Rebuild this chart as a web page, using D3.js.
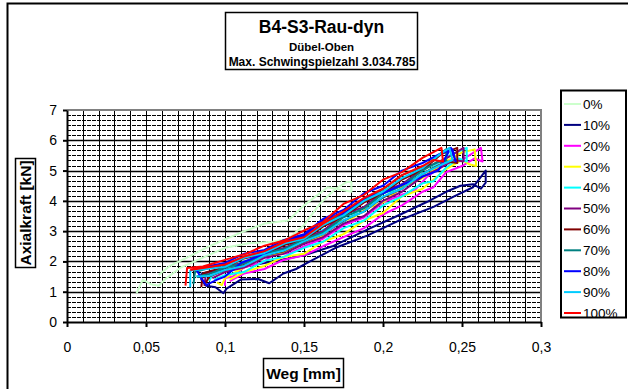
<!DOCTYPE html>
<html>
<head>
<meta charset="utf-8">
<script src="https://cdn.jsdelivr.net/npm/d3@7"></script>
<style>
  body { margin: 0; background: #fff; }
  text { font-family: "Liberation Sans", Arial, sans-serif; }
</style>
</head>
<body>
<div></div>
<script>
// legend labels and line colours
const categories = ['0%', '10%', '20%', '30%', '40%', '50%', '60%', '70%', '80%', '90%', '100%'];
const colors = ['#ccffcc', '#000080', '#ff00ff', '#ffff00', '#00ffff', '#800080', '#800000', '#008080', '#0000ff', '#00ccff', '#ff0000'];

const xTicks = [0, 0.05, 0.1, 0.15, 0.2, 0.25, 0.3];
const xLabels = ['0', '0,05', '0,1', '0,15', '0,2', '0,25', '0,3'];
const yTicks = [0, 1, 2, 3, 4, 5, 6, 7];
const yLabels = ['0', '1', '2', '3', '4', '5', '6', '7'];

// [Weg mm, Axialkraft kN]
const s0 = [[0.044,0.95],[0.048,1.4],[0.053,1.25],[0.058,1.2],[0.063,1.45],[0.072,1.8],[0.085,2.1],[0.1,2.45],[0.115,2.6],[0.13,2.65],[0.14,2.75],[0.15,3.2],[0.16,3.9],[0.17,4.4],[0.177,4.62],[0.18,4.62],[0.18,4.3],[0.165,4.45],[0.15,3.85],[0.14,3.35],[0.125,3.25],[0.11,2.95],[0.09,2.5],[0.075,2.1],[0.065,1.85],[0.058,1.55]];
const s10 = [[0.085,1.6],[0.085,1.4],[0.088,1.2],[0.094,1.15],[0.099,0.95],[0.101,1.1],[0.11,1.4],[0.121,1.42],[0.128,1.28],[0.137,1.6],[0.145,1.75],[0.152,1.95],[0.17,2.45],[0.19,2.85],[0.21,3.35],[0.232,3.8],[0.245,4.15],[0.257,4.45],[0.265,5.0],[0.265,4.6],[0.262,4.4],[0.257,4.55],[0.249,4.5],[0.24,4.3],[0.228,3.97],[0.211,3.55],[0.19,3.05],[0.168,2.5],[0.15,2.2],[0.13,2.0],[0.11,1.8],[0.095,1.7],[0.085,1.6]];
const s20 = [[0.1,1.2],[0.1,1.45],[0.105,1.5],[0.112,1.8],[0.125,2.0],[0.132,2.3],[0.14,2.25],[0.15,2.5],[0.162,2.75],[0.175,3.2],[0.188,3.45],[0.2,3.95],[0.212,4.2],[0.22,4.35],[0.228,4.8],[0.24,5.25],[0.25,5.35],[0.262,5.75],[0.263,5.3],[0.258,5.4],[0.25,5.15],[0.24,4.95],[0.232,4.45],[0.225,4.3],[0.212,3.85],[0.2,3.55],[0.188,3.1],[0.175,2.8],[0.162,2.5],[0.15,2.2],[0.137,2.05],[0.125,1.75],[0.112,1.6],[0.103,1.35]];
const s30 = [[0.095,1.3],[0.098,1.22],[0.1,1.45],[0.105,1.6],[0.112,1.8],[0.125,2.15],[0.138,2.3],[0.15,2.6],[0.162,2.85],[0.17,3.3],[0.18,3.4],[0.19,3.75],[0.2,3.95],[0.212,4.45],[0.225,4.75],[0.24,5.3],[0.25,5.6],[0.258,5.7],[0.259,5.15],[0.255,5.2],[0.25,5.35],[0.24,5.05],[0.225,4.4],[0.212,4.15],[0.2,3.6],[0.188,3.35],[0.175,2.9],[0.162,2.65],[0.15,2.25],[0.137,2.15],[0.125,1.85],[0.112,1.65],[0.103,1.4]];
const s40 = [[0.09,1.35],[0.092,1.55],[0.1,1.7],[0.112,2.0],[0.125,2.15],[0.138,2.45],[0.15,2.6],[0.162,3.05],[0.175,3.3],[0.188,3.8],[0.2,4.1],[0.212,4.55],[0.225,4.85],[0.24,5.45],[0.253,5.75],[0.253,5.3],[0.248,5.4],[0.24,5.1],[0.232,4.65],[0.225,4.58],[0.212,4.15],[0.2,3.85],[0.188,3.35],[0.175,3.1],[0.162,2.65],[0.15,2.45],[0.137,2.15],[0.125,2.02],[0.112,1.65],[0.1,1.55],[0.093,1.4]];
const s50 = [[0.087,1.2],[0.088,1.62],[0.094,1.65],[0.1,1.85],[0.112,1.95],[0.125,2.3],[0.138,2.45],[0.15,2.78],[0.162,3.0],[0.175,3.55],[0.188,3.8],[0.2,4.3],[0.212,4.55],[0.225,5.05],[0.24,5.4],[0.251,5.75],[0.251,5.3],[0.245,5.35],[0.235,5.05],[0.225,4.8],[0.212,4.3],[0.2,4.0],[0.188,3.5],[0.175,3.25],[0.162,2.8],[0.15,2.58],[0.137,2.25],[0.125,2.12],[0.112,1.8],[0.1,1.65],[0.092,1.45]];
const s60 = [[0.085,1.15],[0.086,1.6],[0.092,1.7],[0.1,1.8],[0.112,2.1],[0.125,2.25],[0.138,2.55],[0.15,2.72],[0.162,3.15],[0.175,3.48],[0.188,3.95],[0.2,4.25],[0.212,4.7],[0.225,5.02],[0.237,5.55],[0.247,5.75],[0.247,5.25],[0.24,5.3],[0.225,4.9],[0.212,4.4],[0.2,4.12],[0.188,3.65],[0.175,3.35],[0.162,2.9],[0.15,2.65],[0.137,2.33],[0.125,2.2],[0.112,1.88],[0.1,1.72],[0.09,1.5],[0.087,1.2]];
const s70 = [[0.08,1.25],[0.081,1.65],[0.09,1.78],[0.1,1.88],[0.112,2.16],[0.125,2.32],[0.138,2.65],[0.15,2.8],[0.162,3.25],[0.175,3.58],[0.188,4.05],[0.2,4.38],[0.212,4.85],[0.225,5.12],[0.24,5.7],[0.24,5.25],[0.235,5.3],[0.225,5.0],[0.212,4.5],[0.2,4.24],[0.188,3.75],[0.175,3.46],[0.162,2.95],[0.15,2.73],[0.137,2.4],[0.125,2.26],[0.112,1.94],[0.1,1.8],[0.09,1.58],[0.082,1.5]];
const s80 = [[0.082,1.72],[0.085,1.45],[0.088,1.22],[0.095,1.4],[0.1,1.5],[0.11,1.95],[0.125,2.25],[0.14,2.7],[0.15,2.85],[0.162,3.35],[0.175,3.6],[0.19,4.15],[0.2,4.25],[0.213,4.55],[0.225,4.8],[0.235,5.0],[0.243,5.75],[0.246,5.3],[0.244,5.7],[0.236,5.55],[0.225,5.25],[0.212,5.0],[0.2,4.5],[0.188,4.25],[0.175,3.7],[0.162,3.4],[0.15,2.9],[0.137,2.7],[0.125,2.38],[0.112,2.25],[0.1,1.95],[0.09,1.85],[0.082,1.72]];
const s90 = [[0.078,1.15],[0.078,1.7],[0.088,1.75],[0.1,1.82],[0.112,2.12],[0.125,2.28],[0.138,2.6],[0.15,2.75],[0.162,3.2],[0.175,3.52],[0.188,4.0],[0.2,4.3],[0.212,4.75],[0.225,5.08],[0.235,5.5],[0.242,5.75],[0.244,5.35],[0.235,5.15],[0.225,4.9],[0.212,4.4],[0.2,4.14],[0.188,3.65],[0.175,3.36],[0.162,2.9],[0.15,2.66],[0.137,2.35],[0.125,2.2],[0.112,1.85],[0.1,1.72],[0.09,1.52],[0.082,1.5]];
const s100 = [[0.075,1.2],[0.076,1.78],[0.086,1.83],[0.1,2.05],[0.113,2.25],[0.125,2.52],[0.138,2.7],[0.15,3.02],[0.162,3.3],[0.175,3.9],[0.188,4.2],[0.2,4.7],[0.212,4.95],[0.225,5.42],[0.237,5.75],[0.238,5.3],[0.232,5.35],[0.225,5.15],[0.212,4.85],[0.2,4.4],[0.188,4.1],[0.175,3.65],[0.162,3.25],[0.15,2.8],[0.138,2.65],[0.125,2.34],[0.112,2.16],[0.1,1.9],[0.088,1.8],[0.078,1.72]];

const series = [s0, s10, s20, s30, s40, s50, s60, s70, s80, s90, s100];

const svgWidth = 628,
    svgHeight = 389;

const svg = d3.select('body')
    .select('div')
    .append('svg')
    .attr('width', svgWidth)
    .attr('height', svgHeight);

// outer chart frame
svg.append('rect')
    .attr('x', 7.5).attr('y', 3.5)
    .attr('width', 660).attr('height', 420)
    .attr('fill', '#fff')
    .attr('stroke', '#000')
    .attr('stroke-width', 2);

const xScale = d3.scaleLinear().domain([0, 0.3]).range([67, 541]);
const yScale = d3.scaleLinear().domain([0, 7]).range([322, 110]);

const grid = svg.append('g').attr('id', 'grid');

// vertical gridlines every 0.01
grid.selectAll('line.v')
    .data(d3.range(1, 30).map(i => i / 100))
    .enter()
    .append('line')
    .attr('class', 'v')
    .attr('x1', d => Math.round(xScale(d)) + 0.5)
    .attr('x2', d => Math.round(xScale(d)) + 0.5)
    .attr('y1', yScale(7))
    .attr('y2', yScale(0))
    .attr('stroke', '#000')
    .attr('stroke-width', 1);

// minor horizontal gridlines (dashed)
const minor = [];
for (let k = 0; k < 7; k++) for (let j = 1; j < 6; j++) minor.push(k + j / 6);
grid.selectAll('line.hm')
    .data(minor)
    .enter()
    .append('line')
    .attr('class', 'hm')
    .attr('x1', xScale(0))
    .attr('x2', xScale(0.3))
    .attr('y1', d => Math.round(yScale(d)) + 0.5)
    .attr('y2', d => Math.round(yScale(d)) + 0.5)
    .attr('stroke', '#000')
    .attr('stroke-width', 1)
    .attr('stroke-dasharray', '4,1');

grid.selectAll('line.h')
    .data([1, 2, 3, 4, 5, 6])
    .enter()
    .append('line')
    .attr('class', 'h')
    .attr('x1', xScale(0))
    .attr('x2', xScale(0.3))
    .attr('y1', d => Math.round(yScale(d)) + 0.5)
    .attr('y2', d => Math.round(yScale(d)) + 0.5)
    .attr('stroke', '#000')
    .attr('stroke-width', 1.5);

// plot area border (grey, top and right)
svg.append('path')
    .attr('d', `M${xScale(0)},${yScale(7)}H${xScale(0.3)}V${yScale(0)}`)
    .attr('fill', 'none')
    .attr('stroke', '#808080')
    .attr('stroke-width', 2);

const line = d3.line()
    .x(d => xScale(d[0]))
    .y(d => yScale(d[1]));

svg.append('g')
    .attr('id', 'series')
    .selectAll('path')
    .data(series)
    .enter()
    .append('path')
    .attr('d', line)
    .attr('fill', 'none')
    .attr('stroke', (d, i) => colors[i])
    .attr('stroke-width', 2)
    .attr('stroke-linejoin', 'round');

const xAxis = d3.axisBottom(xScale)
    .tickValues(xTicks)
    .tickFormat((d, i) => xLabels[i])
    .tickSizeInner(5)
    .tickSizeOuter(0)
    .tickPadding(15);

const yAxis = d3.axisLeft(yScale)
    .tickValues(yTicks)
    .tickFormat((d, i) => yLabels[i])
    .tickSizeInner(4)
    .tickSizeOuter(0)
    .tickPadding(6);

const gx = svg.append('g')
    .attr('id', 'x-axis')
    .attr('transform', `translate(0, ${yScale(0)})`)
    .call(xAxis);

const gy = svg.append('g')
    .attr('id', 'y-axis')
    .attr('transform', `translate(${xScale(0)}, 0)`)
    .call(yAxis);

[gx, gy].forEach(g => {
    g.select('.domain').attr('stroke', '#000').attr('stroke-width', 2);
    g.selectAll('.tick line').attr('stroke', '#000').attr('stroke-width', 2);
    g.selectAll('.tick text')
        .attr('fill', '#000')
        .style('font-size', '14px')
        .style('font-family', '"Liberation Sans", Arial, sans-serif');
});

// title box
svg.append('rect')
    .attr('x', 225.5).attr('y', 12.5)
    .attr('width', 192).attr('height', 57)
    .attr('fill', '#fff')
    .attr('stroke', '#000')
    .attr('stroke-width', 1.5);

svg.append('text')
    .attr('x', 321.5).attr('y', 33)
    .attr('text-anchor', 'middle')
    .style('font-weight', 'bold')
    .style('font-size', '17.5px')
    .text('B4-S3-Rau-dyn');

svg.append('text')
    .attr('x', 321.5).attr('y', 51)
    .attr('text-anchor', 'middle')
    .style('font-weight', 'bold')
    .style('font-size', '11.5px')
    .text('Dübel-Oben');

svg.append('text')
    .attr('x', 322).attr('y', 65.5)
    .attr('text-anchor', 'middle')
    .style('font-weight', 'bold')
    .style('font-size', '12px')
    .text('Max. Schwingspielzahl 3.034.785');

// axis titles
svg.append('rect')
    .attr('x', 15.5).attr('y', 158.5)
    .attr('width', 20).attr('height', 109)
    .attr('fill', '#fff')
    .attr('stroke', '#000')
    .attr('stroke-width', 1.5);

svg.append('text')
    .attr('transform', 'translate(31, 213) rotate(-90)')
    .attr('text-anchor', 'middle')
    .style('font-weight', 'bold')
    .style('font-size', '15.5px')
    .text('Axialkraft [kN]');

svg.append('rect')
    .attr('x', 263.5).attr('y', 358.5)
    .attr('width', 80).attr('height', 29)
    .attr('fill', '#fff')
    .attr('stroke', '#000')
    .attr('stroke-width', 1.5);

svg.append('text')
    .attr('x', 303.5).attr('y', 379)
    .attr('text-anchor', 'middle')
    .style('font-weight', 'bold')
    .style('font-size', '15.5px')
    .text('Weg [mm]');

// legend
svg.append('clipPath')
    .attr('id', 'legend-clip')
    .append('rect')
    .attr('x', 561).attr('y', 90)
    .attr('width', 66).attr('height', 228);

svg.append('rect')
    .attr('x', 561).attr('y', 90.5)
    .attr('width', 65).attr('height', 227)
    .attr('fill', '#fff');

const legend = svg.append('g')
    .attr('id', 'legend')
    .attr('clip-path', 'url(#legend-clip)');

const item = legend.selectAll('g')
    .data(categories)
    .enter()
    .append('g')
    .attr('transform', (d, i) => `translate(0, ${104 + i * 20.9})`);

item.append('line')
    .attr('x1', 564).attr('x2', 581)
    .attr('stroke', (d, i) => colors[i])
    .attr('stroke-width', 2);

item.append('text')
    .attr('x', 583)
    .attr('dy', '0.36em')
    .style('font-size', '13.5px')
    .text(d => d);

svg.append('rect')
    .attr('x', 561).attr('y', 90.5)
    .attr('width', 65).attr('height', 227)
    .attr('fill', 'none')
    .attr('stroke', '#000')
    .attr('stroke-width', 2);
</script>
</body>
</html>
